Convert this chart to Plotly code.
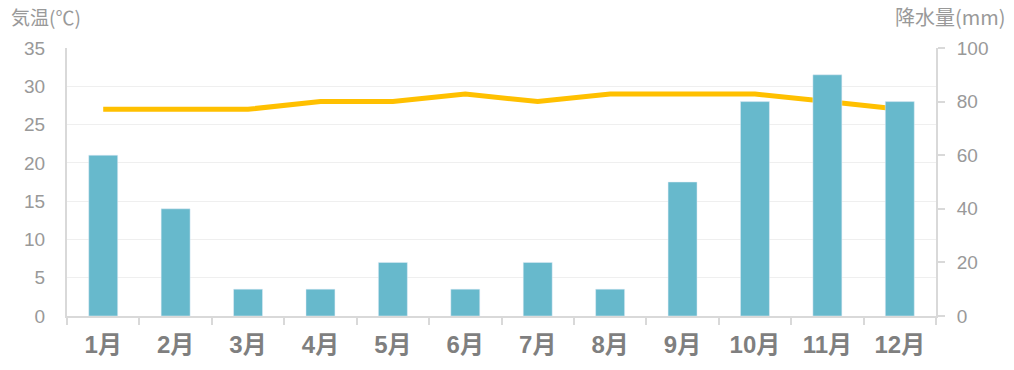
import plotly.graph_objects as go

months = ["1月", "2月", "3月", "4月", "5月", "6月", "7月", "8月", "9月", "10月", "11月", "12月"]
precip_mm = [60, 40, 10, 10, 20, 10, 20, 10, 50, 80, 90, 80]
temp_c = [27, 27, 27, 28, 28, 29, 28, 29, 29, 29, 28, 27]

FONT = "Liberation Sans, Arial, Noto Sans CJK JP, sans-serif"
CJK = "Noto Sans CJK JP, sans-serif"

W, H = 1014, 370
L, R, T, B = 67, 78, 48, 54
plot_w = W - L - R
plot_h = H - T - B

fig = go.Figure()
fig.add_trace(go.Bar(
    x=months, y=precip_mm, yaxis="y2", marker_color="#67B9CC",
    width=0.4, name="降水量"))
fig.add_trace(go.Scatter(
    x=months, y=temp_c, yaxis="y", mode="lines",
    line=dict(color="#FFC000", width=5), name="気温"))

fig.update_layout(
    width=W, height=H,
    margin=dict(l=L, r=R, t=T, b=B, autoexpand=False),
    paper_bgcolor="white", plot_bgcolor="white",
    showlegend=False,
    font=dict(family=FONT, color="#999999", size=18),
    xaxis=dict(
        type="category", tickson="boundaries", ticks="outside", ticklen=7,
        tickcolor="#d9d9d9", tickwidth=2, showline=True, linecolor="#d9d9d9", linewidth=2,
        showgrid=False, automargin=False,
        tickfont=dict(size=24, color="#7f7f7f", family=FONT, weight="bold"),
        ticklabelstandoff=6, range=[-0.5, 11.5]),
    yaxis=dict(
        range=[0, 35], dtick=5, showgrid=True, gridcolor="#efefef", gridwidth=1,
        showline=True, linecolor="#d9d9d9", linewidth=2, zeroline=False, automargin=False,
        ticks="", ticklabelstandoff=16, tickfont=dict(size=19, color="#999999")),
    yaxis2=dict(
        range=[0, 100], dtick=20, overlaying="y", side="right", showgrid=False,
        showline=True, linecolor="#d9d9d9", linewidth=2, zeroline=False, automargin=False,
        ticks="outside", ticklen=7, tickcolor="#d9d9d9", tickwidth=2, ticklabelstandoff=8,
        tickfont=dict(size=19, color="#999999")),
    annotations=[
        dict(text="気温(℃)", x=(9 - L) / plot_w, y=(H - B - 17) / plot_h,
             xref="paper", yref="paper", showarrow=False, xanchor="left", yanchor="middle",
             font=dict(size=19, color="#999999", family=CJK)),
        dict(text="降水量(mm)", x=(1008 - L) / plot_w, y=(H - B - 17) / plot_h,
             xref="paper", yref="paper", showarrow=False, xanchor="right", yanchor="middle",
             font=dict(size=20, color="#999999", family=CJK)),
    ],
)

# remove the default 8px page margin so the figure fills the window exactly
fig.write_html("out.html", config={"displayModeBar": False},
               post_script="document.body.style.margin='0';")
